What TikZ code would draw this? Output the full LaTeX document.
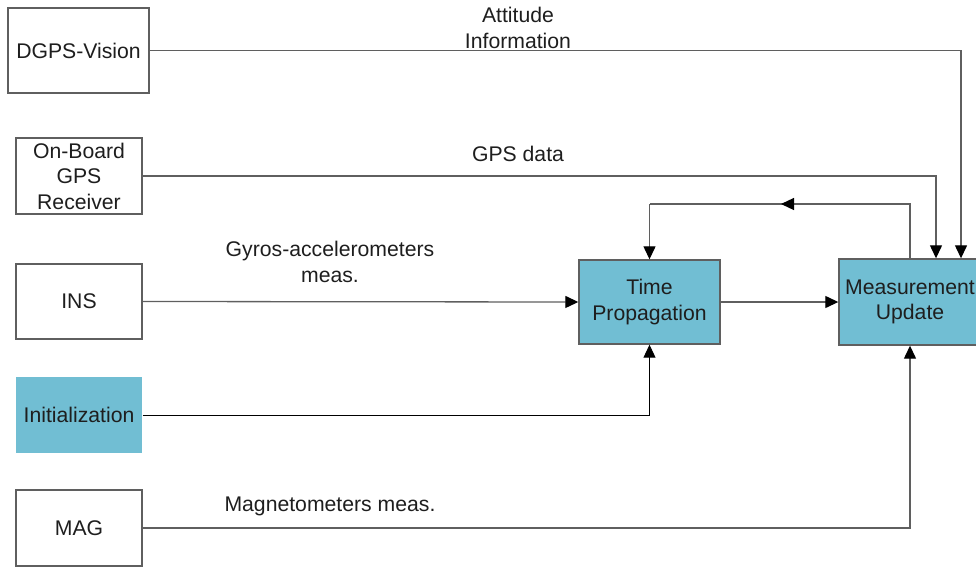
\documentclass[tikz,border=0pt]{standalone}
\usepackage{fontspec}
\setmainfont{Liberation Sans}
\usetikzlibrary{arrows.meta}
\definecolor{boxfill}{RGB}{113,190,211}
\definecolor{linegray}{RGB}{95,95,95}
\definecolor{txt}{RGB}{30,30,30}
\begin{document}
\begin{tikzpicture}[x=1pt,y=-1pt,
  font=\fontsize{21.2}{25.5}\selectfont, text=txt,
  blk/.style={draw=linegray, line width=1.4pt, fill=white, align=center,
              inner sep=0pt, text width=#1},
  blk/.default=124pt,
  filt/.style={blk=136pt, fill=boxfill},
  conn/.style={draw=linegray, line width=1.3pt},
  arr/.style={conn, -{Triangle[length=13pt,width=12pt,color=black]}},
  lbl/.style={align=center, inner sep=0pt}]
\clip (0,0) rectangle (976,567);

% sources on the left
\node[blk=139pt, minimum width=141pt, minimum height=85pt] (dgps) at (78.5,50.5) {DGPS-Vision};
\node[blk, minimum width=126pt, minimum height=76pt] (gps) at (79,176) {On-Board\\GPS\\Receiver};
\node[blk, minimum width=126pt, minimum height=75pt] (ins) at (79,301.5) {INS};
\node[blk, draw=none, fill=boxfill, minimum width=126pt, minimum height=76pt] (init) at (79,415) {Initialization};
\node[blk, minimum width=126pt, minimum height=76pt] (mag) at (79,528) {MAG};

% filter stages
\node[filt, minimum width=141pt, minimum height=84pt] (tp) at (649.5,302) {Time\\Propagation};
\node[filt, minimum width=142pt, minimum height=86pt] (mu) at (910,302) {Measurement\\Update};

% feedback loop corners
\coordinate (fbR) at (910,204);
\coordinate (fbM) at (781,204);
\coordinate (fbL) at (649.5,204);

% connectors
\draw[arr] (dgps.east) -| ([xshift=51pt]mu.north);
\draw[arr] (gps.east) -| ([xshift=26pt]mu.north);
\draw[arr] (ins.east) -- (tp.west);
\draw[arr, draw=black, line width=1pt] (init.east) -| (tp.south);
\draw[arr] (mag.east) -| (mu.south);
\draw[arr] (tp.east) -- (mu.west);
\draw[conn] (mu.north) -- (fbR) -- (fbL);
\draw[arr] (fbL) -- (tp.north);
\draw[arr] (fbR) -- (fbM);

% connector labels
\node[lbl] (latt) at (518,28) {Attitude\\Information};
\node[lbl] (lgps) at (518,154) {GPS data};
\node[lbl] (lgyr) at (330,262) {Gyros-accelerometers\\meas.};
\node[lbl] (lmag) at (330,506) {Magnetometers meas.};
\end{tikzpicture}
\end{document}
